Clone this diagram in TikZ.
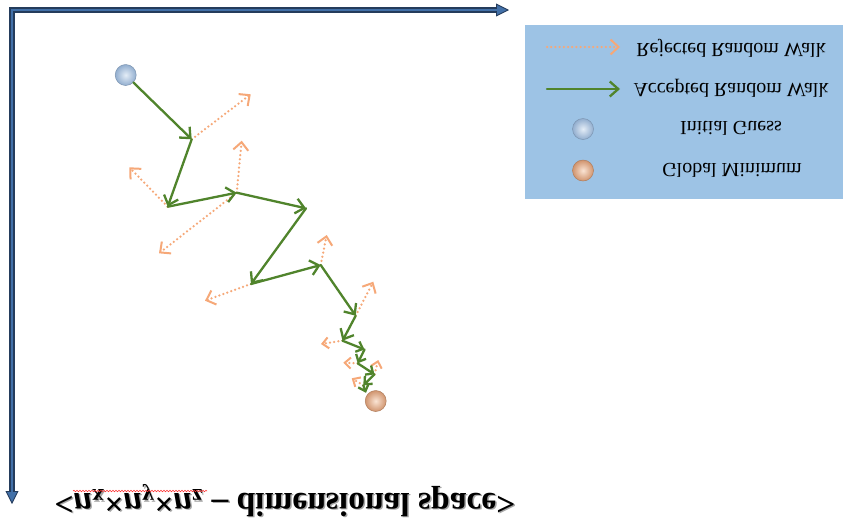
\documentclass[tikz,border=0pt]{standalone}
\usepackage{fontspec}
\setmainfont{Liberation Serif}
\usetikzlibrary{arrows.meta,decorations.pathmorphing}
\definecolor{axisdark}{RGB}{36,60,92}
\definecolor{axislight}{RGB}{66,112,168}
\definecolor{walkgreen}{RGB}{80,132,44}
\definecolor{rejorange}{RGB}{246,168,120}
\definecolor{legendblue}{RGB}{157,195,229}
\definecolor{initin}{RGB}{228,237,247}
\definecolor{initout}{RGB}{146,174,207}
\definecolor{minin}{RGB}{250,228,212}
\definecolor{minout}{RGB}{208,148,110}
\newcommand{\flipv}[1]{\scalebox{1}[-1]{#1}}
\begin{document}
\begin{tikzpicture}[x=1pt,y=-1pt,
  accepted/.style={draw=walkgreen, line width=2.3pt, line cap=round,
    -{Straight Barb[length=8.5pt,width=15pt,line width=2.3pt]}},
  acceptedsmall/.style={draw=walkgreen, line width=2.3pt, line cap=round,
    -{Straight Barb[length=6pt,width=11pt,line width=2.3pt]}},
  rejected/.style={draw=rejorange, line width=2.5pt, line cap=round,
    dash pattern=on 0pt off 4.2pt,
    -{Straight Barb[length=8pt,width=15pt,line width=2pt]}},
  rejectedsmall/.style={draw=rejorange, line width=2.5pt, line cap=round,
    dash pattern=on 0pt off 4.2pt,
    -{Straight Barb[length=6pt,width=11pt,line width=2pt]}},
  initball/.style={circle, minimum size=21pt, inner sep=0pt,
    inner color=initin, outer color=initout, draw=initout!85!black, line width=0.5pt},
  minball/.style={circle, minimum size=21pt, inner sep=0pt,
    inner color=minin, outer color=minout, draw=minout!85!black, line width=0.5pt},
  legtext/.style={font=\fontsize{20}{24}\selectfont, text=black, inner sep=0pt},
  bigtext/.style={font=\fontsize{33.5}{40}\selectfont\bfseries, inner sep=0pt},
]
\useasboundingbox (0,0) rectangle (850,531);
\fill[white] (0,0) rectangle (850,531);

% axes
\coordinate (xend) at (509,10);
\coordinate (origin) at (12,10);
\coordinate (yend) at (12,504);
\draw[axisdark, line width=5.2pt, line join=miter,
  {Triangle[length=13pt,width=13pt,line width=0.9pt,fill=axislight]}-{Triangle[length=13pt,width=13pt,line width=0.9pt,fill=axislight]}]
  (xend) -- (origin) -- (yend);
\draw[axislight, line width=2.2pt, line join=miter, shorten <=12pt, shorten >=12pt]
  (xend) -- (origin) -- (yend);

% legend
\node[fill=legendblue, minimum width=318pt, minimum height=174pt, inner sep=0pt] (legend) at (684,112) {};
\coordinate (lrs) at (547,47);
\coordinate (lre) at (620,47);
\coordinate (las) at (547,89);
\coordinate (lae) at (620,89);
\draw[rejected] (lrs) -- (lre);
\draw[accepted] (las) -- (lae);
\node[initball] (linit) at (583,129) {};
\node[minball] (lmin) at (583,170.5) {};
\node[legtext] (trej) at (731,48) {\flipv{Rejected Random Walk}};
\node[legtext] (tacc) at (731,88) {\flipv{Accepted Random Walk}};
\node[legtext] (tini) at (731,128) {\flipv{Initial Guess}};
\node[legtext] (tmin) at (732,170) {\flipv{Global Minimum}};

% walk
\node[initball] (init) at (125.7,75) {};
\node[minball] (gmin) at (375.7,401) {};
\coordinate (p1) at (191.7,139.3);
\coordinate (p2) at (167.7,206.7);
\coordinate (p3) at (236.7,192.7);
\coordinate (p4) at (306,208.3);
\coordinate (p5) at (251,284);
\coordinate (p6) at (320.7,265);
\coordinate (p7) at (355.7,315.7);
\coordinate (p8) at (342.5,340.7);
\coordinate (p9) at (364.5,349.5);
\coordinate (p10) at (357.7,363.3);
\coordinate (p11) at (374.5,374.3);
\coordinate (p12) at (363.3,385.3);
\coordinate (p13) at (366,392.8);

\coordinate (r1) at (250.7,94.3);
\coordinate (r2) at (129.3,167.3);
\coordinate (r3a) at (241.7,140.7);
\coordinate (r3b) at (159,253.3);
\coordinate (r5) at (205,300.7);
\coordinate (r6) at (326.7,235);
\coordinate (r7) at (373.3,281.7);
\coordinate (r8) at (321,344);
\coordinate (r10) at (343.3,362.7);
\coordinate (r11) at (378.3,360);
\coordinate (r12) at (351.7,378.3);

\draw[rejected] (p1) -- (r1);
\draw[rejected] (p2) -- (r2);
\draw[rejected] (p3) -- (r3a);
\draw[rejected] (p3) -- (r3b);
\draw[rejected] (p5) -- (r5);
\draw[rejected] (p6) -- (r6);
\draw[rejected] (p7) -- (r7);
\draw[rejectedsmall] (p8) -- (r8);
\draw[rejectedsmall] (p10) -- (r10);
\draw[rejectedsmall] (p11) -- (r11);
\draw[rejectedsmall] (p12) -- (r12);

\draw[accepted] (init) -- (p1);
\draw[accepted] (p1) -- (p2);
\draw[accepted] (p2) -- (p3);
\draw[accepted] (p3) -- (p4);
\draw[accepted] (p4) -- (p5);
\draw[accepted] (p5) -- (p6);
\draw[accepted] (p6) -- (p7);
\draw[accepted] (p7) -- (p8);
\draw[acceptedsmall] (p8) -- (p9);
\draw[acceptedsmall] (p9) -- (p10);
\draw[acceptedsmall] (p10) -- (p11);
\draw[acceptedsmall] (p11) -- (p12);
\draw[acceptedsmall] (p12) -- (p13);

% bottom label
\node[bigtext, text=black!35] (labelshadow) at (286.5,502)
  {\flipv{<\textit{n}\textsubscript{x}×\textit{n}\textsubscript{y}×\textit{n}\textsubscript{z} – dimensional space>}};
\node[bigtext, text=black] (label) at (285,500.5)
  {\flipv{<\textit{n}\textsubscript{x}×\textit{n}\textsubscript{y}×\textit{n}\textsubscript{z} – dimensional space>}};
\coordinate (wavys) at (73,491);
\coordinate (wavye) at (207,491);
\draw[red!80, line width=0.6pt, decorate,
  decoration={snake, amplitude=0.7pt, segment length=3pt}] (wavys) -- (wavye);
\end{tikzpicture}
\end{document}
